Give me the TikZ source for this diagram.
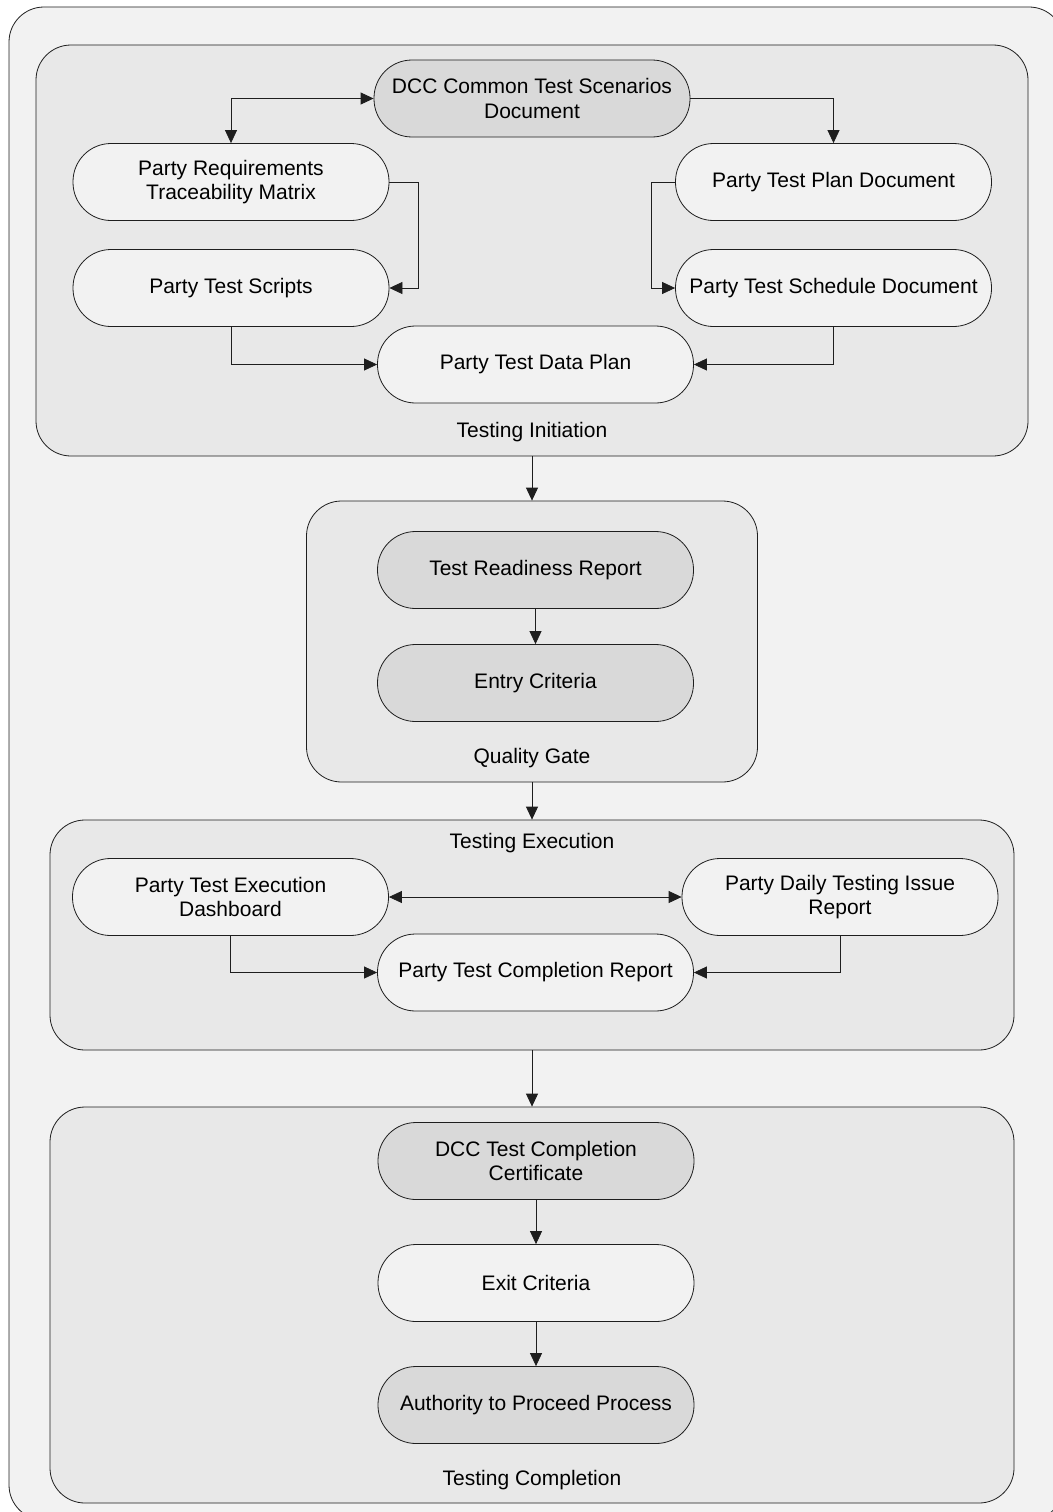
\documentclass[tikz,border=0pt]{standalone}
\usepackage{fontspec}
\setmainfont{Liberation Sans}
\usetikzlibrary{arrows.meta}
\definecolor{outerfill}{HTML}{F2F2F2}
\definecolor{groupfill}{HTML}{E8E8E8}
\definecolor{lightfill}{HTML}{F2F2F2}
\definecolor{darkfill}{HTML}{D9D9D9}
\definecolor{linecol}{HTML}{1E1E1E}
\begin{document}
\begin{tikzpicture}[x=1pt,y=-1pt,
  >={Triangle[length=13pt,width=12pt]},
  every node/.style={font=\fontsize{21}{24.5}\selectfont},
  groupbox/.style={draw=linecol,line width=0.8pt,fill=groupfill,rounded corners=35pt,inner sep=0pt},
  proc/.style={draw=linecol,line width=0.8pt,rounded corners=38pt,minimum width=316pt,minimum height=77pt,align=center,inner sep=2pt},
  lightproc/.style={proc,fill=lightfill},
  darkproc/.style={proc,fill=darkfill},
  grouplabel/.style={inner sep=0pt},
  conn/.style={draw=linecol,line width=0.8pt}]
\useasboundingbox (0,0) rectangle (1052,1512);
% outer frame
\node[draw=linecol,line width=0.8pt,fill=outerfill,rounded corners=35pt,minimum width=1055pt,minimum height=1513pt,inner sep=0pt] (outer) at (536.5,763.5) {};
% groups
\node[groupbox,minimum width=992pt,minimum height=411pt] (ti) at (532,250.5) {};
\node[groupbox,minimum width=451pt,minimum height=281pt] (qg) at (532,641.5) {};
\node[groupbox,minimum width=964pt,minimum height=230pt] (te) at (532,935) {};
\node[groupbox,minimum width=964pt,minimum height=396pt] (tc) at (532,1305) {};
\node[grouplabel] (tilab) at (532,432) {Testing Initiation};
\node[grouplabel] (qglab) at (532,758) {Quality Gate};
\node[grouplabel] (telab) at (532,843) {Testing Execution};
\node[grouplabel] (tclab) at (532,1480) {Testing Completion};
% Testing Initiation nodes
\node[darkproc] (dcc) at (532,98.5) {DCC Common Test Scenarios\\Document};
\node[lightproc] (prtm) at (231,182) {Party Requirements\\Traceability Matrix};
\node[lightproc] (scripts) at (231,288) {Party Test Scripts};
\node[lightproc] (ptpd) at (833.5,182) {Party Test Plan Document};
\node[lightproc] (sched) at (833.5,288) {Party Test Schedule Document};
\node[lightproc] (dataplan) at (535.5,364.5) {Party Test Data Plan};
% Quality Gate nodes
\node[darkproc] (trr) at (535.5,570) {Test Readiness Report};
\node[darkproc] (entry) at (535.5,683) {Entry Criteria};
% Testing Execution nodes
\node[lightproc] (dash) at (230.5,897) {Party Test Execution\\Dashboard};
\node[lightproc] (issue) at (840,897) {Party Daily Testing Issue\\Report};
\node[lightproc] (compl) at (535.5,972.5) {Party Test Completion Report};
% Testing Completion nodes
\node[darkproc] (tcc) at (536,1161) {DCC Test Completion\\Certificate};
\node[lightproc] (exit) at (536,1283) {Exit Criteria};
\node[darkproc] (atp) at (536,1405) {Authority to Proceed Process};
% connectors
\draw[conn,<->] (prtm.north) |- (dcc.west);
\draw[conn,->] (dcc.east) -| (ptpd.north);
\draw[conn,->] (prtm.east) -- ++(29,0) |- (scripts.east);
\draw[conn,->] (ptpd.west) -- ++(-24,0) |- (sched.west);
\draw[conn,->] (scripts.south) |- (dataplan.west);
\draw[conn,->] (sched.south) |- (dataplan.east);
\draw[conn,->] (ti.south) -- (qg.north);
\draw[conn,->] (trr.south) -- (entry.north);
\draw[conn,->] (qg.south) -- (te.north);
\draw[conn,<->] (dash.east) -- (issue.west);
\draw[conn,->] (dash.south) |- (compl.west);
\draw[conn,->] (issue.south) |- (compl.east);
\draw[conn,->] (te.south) -- (tc.north);
\draw[conn,->] (tcc.south) -- (exit.north);
\draw[conn,->] (exit.south) -- (atp.north);
\end{tikzpicture}
\end{document}
